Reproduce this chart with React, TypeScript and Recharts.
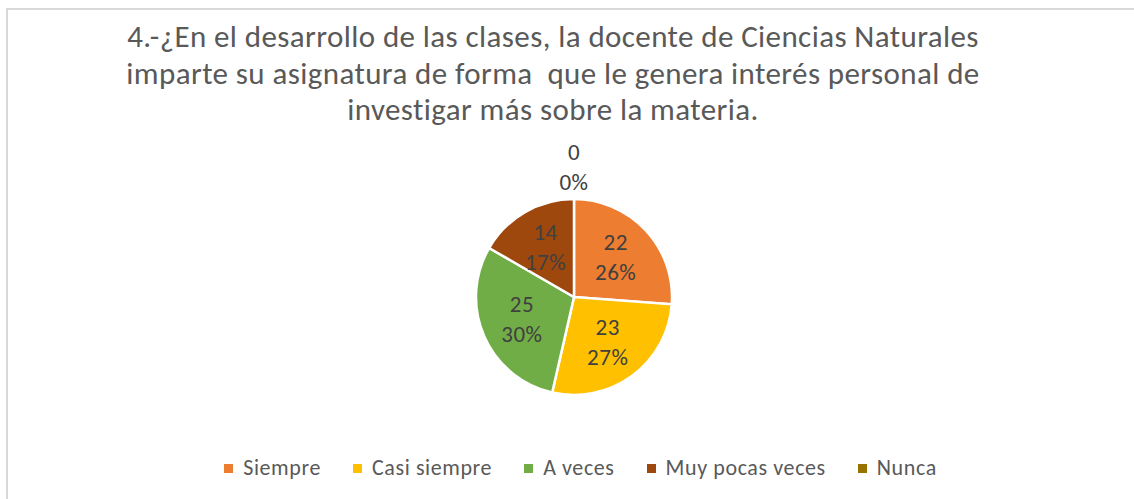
import { PieChart, Pie, Cell, Legend } from "recharts"

const categories = ["Siempre", "Casi siempre", "A veces", "Muy pocas veces", "Nunca"]
const counts = [22, 23, 25, 14, 0]
const colors = ["#ED7D31", "#FFC000", "#70AD47", "#9E480E", "#997300"]
const titleLines = [
  "4.-¿En el desarrollo de las clases, la docente de Ciencias Naturales",
  "imparte su asignatura de forma  que le genera interés personal de",
  "investigar más sobre la materia.",
]

const data = categories.map((name, i) => ({ name, value: counts[i] }))
const total = counts.reduce((a, b) => a + b, 0)

const FONT = 'Carlito, "Open Sans", "Noto Sans", sans-serif'
const RAD = Math.PI / 180

function renderLabel(props: any) {
  const { cx, cy, midAngle, outerRadius, value } = props
  const pct = Math.round((value / total) * 100) + "%"
  let x: number
  let y: number
  if (value === 0) {
    x = cx
    y = cy - outerRadius - 31
  } else {
    const r = outerRadius * 0.58
    x = cx + r * Math.cos(-midAngle * RAD)
    y = cy + r * Math.sin(-midAngle * RAD)
  }
  return (
    <text x={x} y={y} textAnchor="middle" fill="#404040" fontSize={23} letterSpacing={0.5} fontFamily={FONT}>
      <tspan x={x} dy={-8}>{value}</tspan>
      <tspan x={x} dy={30}>{pct}</tspan>
    </text>
  )
}

function LegendContent() {
  return (
    <div
      style={{
        display: "flex",
        justifyContent: "center",
        gap: 32,
        fontFamily: FONT,
        fontSize: 22,
        letterSpacing: 0.6,
        lineHeight: "26px",
        color: "#595959",
      }}
    >
      {categories.map((c, i) => (
        <div key={c} style={{ display: "flex", alignItems: "center" }}>
          <span style={{ width: 9, height: 9, background: colors[i], marginRight: 10, display: "inline-block" }} />
          <span>{c}</span>
        </div>
      ))}
    </div>
  )
}

export default function App() {
  return (
    <div style={{ position: "absolute", left: 0, top: 0, width: 1134, height: 499, overflow: "hidden", background: "#fff" }}>
      <div style={{ position: "absolute", left: 6, top: 8, width: 1200, height: 600, border: "2px solid #D9D9D9" }} />
      <svg width={1134} height={140} style={{ position: "absolute", left: 0, top: 0 }}>
        {titleLines.map((l, i) => (
          <text
            key={l}
            x={553}
            y={47 + i * 36.5}
            textAnchor="middle"
            fill="#595959"
            fontSize={31}
            letterSpacing={0.4}
            fontFamily={FONT}
            style={{ whiteSpace: "pre" }}
          >
            {l}
          </text>
        ))}
      </svg>
      <div style={{ position: "absolute", left: 0, top: 0 }}>
        <PieChart width={1134} height={499} margin={{ top: 0, right: 0, bottom: 0, left: 0 }}>
          <Pie
            data={data}
            dataKey="value"
            nameKey="name"
            cx={574}
            cy={297}
            outerRadius={98}
            startAngle={90}
            endAngle={-270}
            stroke="#fff"
            strokeWidth={2.5}
            label={renderLabel}
            labelLine={false}
            isAnimationActive={false}
          >
            {data.map((d, i) => (
              <Cell key={d.name} fill={colors[i]} />
            ))}
          </Pie>
          <Legend
            content={<LegendContent />}
            wrapperStyle={{ position: "absolute", left: 0, top: 455, width: 1161 }}
          />
        </PieChart>
      </div>
    </div>
  )
}
